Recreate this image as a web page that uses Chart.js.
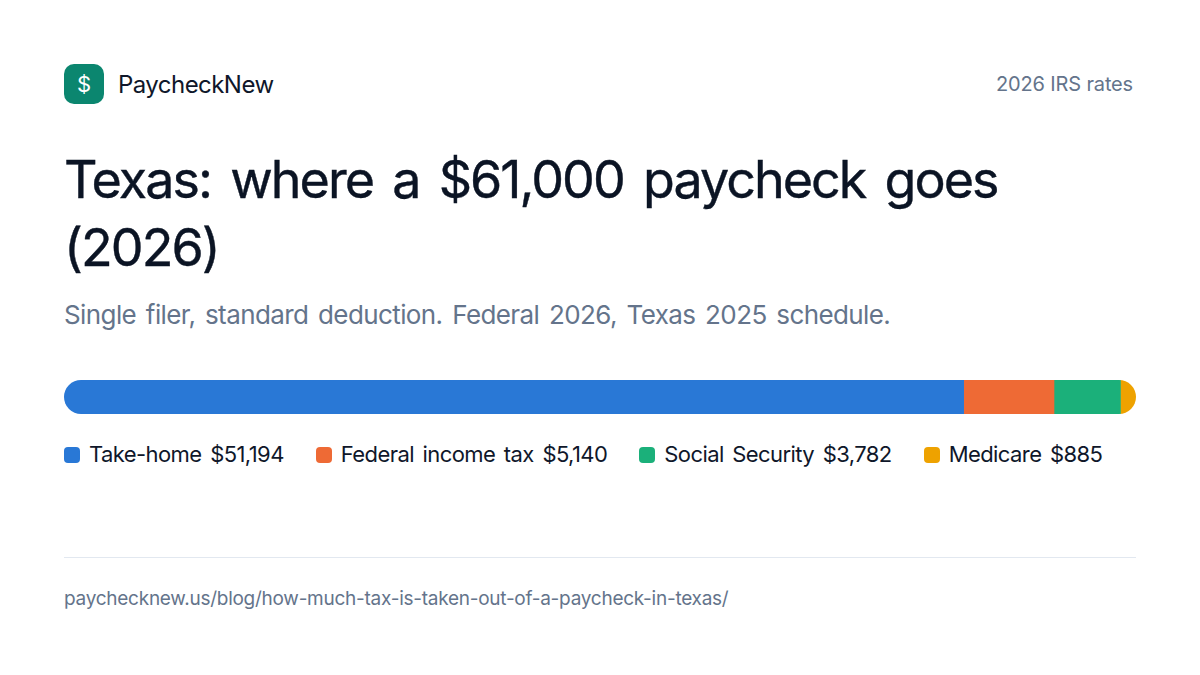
<!DOCTYPE html>
<html>
<head>
<meta charset="utf-8">
<title>Texas paycheck</title>
<script src="https://cdn.jsdelivr.net/npm/chart.js@4"></script>
<style>
  html, body { margin: 0; background: #fff; }
  body { width: 1200px; height: 675px; position: relative; overflow: hidden; font-family: Inter, sans-serif; color: #0f172a; }
  .abs { position: absolute; white-space: nowrap; }
  #logo { left: 64px; top: 64px; width: 40px; height: 40px; border-radius: 10px; background: #0b866f; color: #fff; font-size: 22px; line-height: 40px; text-align: center; }
  #brand { left: 118px; top: 70px; font-size: 24px; line-height: 30px; letter-spacing: -0.55px; }
  #rates { right: 67px; top: 72px; font-size: 20px; line-height: 24px; color: #64748b; letter-spacing: -0.15px; }
  #title { left: 64px; top: 146px; width: 1072px; white-space: normal; font-size: 52px; line-height: 68px; font-weight: 400; letter-spacing: -1.95px; word-spacing: 6.5px; color: #0b1424; -webkit-text-stroke: 0.4px #0b1424; }
  #sub { left: 64px; top: 299px; font-size: 26px; line-height: 32px; color: #64748b; letter-spacing: -0.6px; word-spacing: 3px; }
  #barWrap { left: 64px; top: 380px; width: 1072px; height: 34px; }
  #legend { left: 64px; top: 441px; display: flex; gap: 32px; font-size: 22px; line-height: 27px; letter-spacing: -0.58px; word-spacing: 3px; }
  #legend div { display: flex; align-items: center; }
  #legend i { width: 16px; height: 16px; border-radius: 4px; margin-right: 9px; }
  #rule { left: 64px; top: 557px; width: 1072px; height: 1px; background: #e2e8f0; }
  #url { left: 64px; top: 587px; font-size: 19px; line-height: 24px; color: #64748b; letter-spacing: -0.26px; }
</style>
</head>
<body>
<div class="abs" id="logo">$</div>
<div class="abs" id="brand">PaycheckNew</div>
<div class="abs" id="rates">2026 IRS rates</div>
<div class="abs" id="title">Texas: where a $61,000 paycheck goes (2026)</div>
<div class="abs" id="sub">Single filer, standard deduction. Federal 2026, Texas 2025 schedule.</div>
<div class="abs" id="barWrap"><canvas id="bar"></canvas></div>
<div class="abs" id="legend"></div>
<div class="abs" id="rule"></div>
<div class="abs" id="url">paychecknew.us/blog/how-much-tax-is-taken-out-of-a-paycheck-in-texas/</div>
<script>
//paycheck pieces
const labels = ["Take-home", "Federal income tax", "Social Security", "Medicare"];
const amounts = [51194, 5140, 3782, 885];
const colors = ["#2978d6", "#ee6a35", "#1bb07a", "#eea200"];

const total = amounts.reduce((a, b) => a + b, 0);

//rounds the two ends of the whole bar, a thin last piece would lose its radius otherwise
const pillClip = {
  id: "pillClip",
  beforeDatasetsDraw(c) {
    const a = c.chartArea;
    c.ctx.save();
    c.ctx.beginPath();
    c.ctx.roundRect(a.left, a.top, a.right - a.left, a.bottom - a.top, (a.bottom - a.top) / 2);
    c.ctx.clip();
  },
  afterDatasetsDraw(c) {
    c.ctx.restore();
  }
};

new Chart(document.getElementById("bar"), {
  type: "bar",
  data: {
    labels: ["Paycheck"],
    datasets: labels.map((l, i) => ({
      label: l,
      data: [amounts[i]],
      backgroundColor: colors[i],
      barPercentage: 1,
      categoryPercentage: 1,
      borderWidth: 0
    }))
  },
  options: {
    indexAxis: "y",
    responsive: true,
    maintainAspectRatio: false,
    animation: false,
    layout: { padding: 0 },
    scales: {
      x: { stacked: true, display: false, min: 0, max: total },
      y: { stacked: true, display: false }
    },
    plugins: { legend: { display: false }, tooltip: { enabled: false } }
  },
  plugins: [pillClip]
});

//legend under the bar
const legend = document.getElementById("legend");
labels.forEach((l, i) => {
  const item = document.createElement("div");
  const box = document.createElement("i");
  box.style.background = colors[i];
  item.appendChild(box);
  item.appendChild(document.createTextNode(`${l} $${amounts[i].toLocaleString("en-US")}`));
  legend.appendChild(item);
});
</script>
</body>
</html>
